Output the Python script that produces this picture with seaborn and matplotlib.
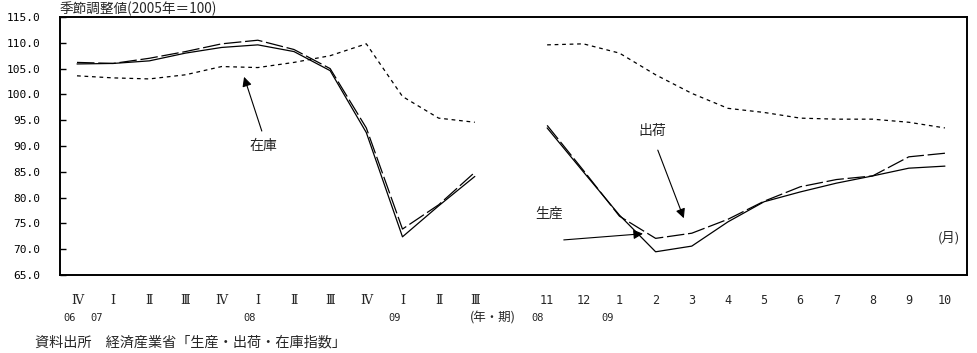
import matplotlib
matplotlib.use('Agg')
import matplotlib.pyplot as plt
import matplotlib.transforms as mtransforms
import pandas as pd
import seaborn as sns

# ---------------- data ----------------
quarter_labels = ['Ⅳ', 'Ⅰ', 'Ⅱ', 'Ⅲ', 'Ⅳ', 'Ⅰ', 'Ⅱ', 'Ⅲ', 'Ⅳ', 'Ⅰ', 'Ⅱ', 'Ⅲ']
month_labels = ['11', '12', '1', '2', '3', '4', '5', '6', '7', '8', '9', '10']

prod_q = [105.9, 106.0, 106.5, 108.0, 109.1, 109.6, 108.3, 104.6, 92.6, 72.4, 78.4, 84.1]
ship_q = [106.2, 106.0, 107.0, 108.3, 109.8, 110.5, 108.7, 105.0, 93.5, 73.9, 78.6, 84.9]
inv_q = [103.6, 103.2, 103.0, 103.8, 105.4, 105.2, 106.2, 107.5, 109.8, 99.6, 95.4, 94.6]

prod_m = [93.5, 85.0, 76.6, 69.5, 70.6, 75.3, 79.2, 81.1, 82.8, 84.2, 85.7, 86.1]
ship_m = [94.0, 85.3, 76.4, 72.1, 73.1, 75.8, 79.3, 82.1, 83.5, 84.2, 87.9, 88.6]
inv_m = [109.6, 109.8, 108.0, 103.8, 100.2, 97.3, 96.5, 95.4, 95.2, 95.2, 94.6, 93.5]

# year labels: (category index, text, shift in slots)
year_q = [(0, '06', -0.2), (1, '07', -0.47), (5, '08', -0.22), (9, '09', -0.22)]
year_m = [(0, '08', -0.25), (2, '09', -0.33)]

yticks = [115.0, 110.0, 105.0, 100.0, 95.0, 90.0, 85.0, 80.0, 75.0, 70.0, 65.0]

GAP = 1  # empty slot between the two blocks
q_pos = list(range(len(quarter_labels)))
m_pos = [len(quarter_labels) + GAP + i for i in range(len(month_labels))]

rows = []
for seg, pos, p, s, v in [('q', q_pos, prod_q, ship_q, inv_q),
                          ('m', m_pos, prod_m, ship_m, inv_m)]:
    for x, a, b, c in zip(pos, p, s, v):
        rows.append((seg, x, '生産', a))
        rows.append((seg, x, '出荷', b))
        rows.append((seg, x, '在庫', c))
df = pd.DataFrame(rows, columns=['seg', 'x', 'series', 'value'])

# ---------------- style ----------------
sns.set_style('white')
plt.rcParams['font.family'] = ['Noto Sans CJK JP', 'DejaVu Sans']

fig = plt.figure(figsize=(9.77, 3.53), dpi=100)
ax = fig.add_axes([60 / 977, 1 - 275 / 353, (967 - 60) / 977, (275 - 17) / 353])

styles = {
    '生産': dict(linestyle='-'),
    '出荷': dict(linestyle=(0, (14, 3))),
    '在庫': dict(linestyle=(0, (3, 3))),
}
for seg in ['q', 'm']:
    for name, st in styles.items():
        d = df[(df.seg == seg) & (df.series == name)]
        sns.lineplot(data=d, x='x', y='value', ax=ax, color='black',
                     linewidth=0.9, estimator=None, legend=False, **st)

ax.set_xlim(-0.47, 24.61)
ax.set_ylim(65, 115)
ax.set_xlabel('')
ax.set_ylabel('')
for sp in ax.spines.values():
    sp.set_color('black')
    sp.set_linewidth(1.4)

ax.set_yticks(yticks)
ax.set_yticklabels([f'{t:.1f}' for t in yticks], family=['DejaVu Sans Mono', 'Noto Sans CJK JP'],
                   fontsize=8)
ax.tick_params(axis='y', direction='in', length=4, width=1, pad=14, left=True, colors='black')

ax.set_xticks(q_pos + m_pos)
ax.set_xticklabels(quarter_labels + month_labels, fontsize=8.5,
                   family=['DejaVu Sans Mono', 'Noto Sans CJK JP'])
for lab in ax.get_xticklabels()[:len(quarter_labels)]:
    lab.set_family(['DejaVu Serif', 'Noto Sans CJK JP'])
    lab.set_fontsize(9)
ax.tick_params(axis='x', length=0, pad=14, bottom=True)

# second row (years) and unit label
tr = mtransforms.blended_transform_factory(ax.transData, fig.transFigure)
yrow = 1 - 318 / 353
for i, t, sh in year_q:
    ax.text(q_pos[i] + sh, yrow, t, transform=tr, ha='center', va='center',
            fontsize=7.5, family=['DejaVu Sans Mono'])
for i, t, sh in year_m:
    ax.text(m_pos[i] + sh, yrow, t, transform=tr, ha='center', va='center',
            fontsize=7.5, family=['DejaVu Sans Mono'])
ax.text(11.5, yrow, '(年・期)', transform=tr, ha='center', va='center', fontsize=9)

ax.text(24.1, 72.2, '(月)', ha='center', va='center', fontsize=9.5)

# annotations
arrow = dict(arrowstyle='-|>', color='black', lw=0.8, mutation_scale=14, shrinkA=0, shrinkB=0)
ax.annotate('', xy=(4.62, 103.4), xytext=(5.11, 92.9), arrowprops=arrow)
ax.text(5.14, 90.0, '在庫', ha='center', va='center', fontsize=10)

ax.annotate('', xy=(16.78, 76.0), xytext=(16.06, 89.2), arrowprops=arrow)
ax.text(15.9, 92.9, '出荷', ha='center', va='center', fontsize=10)

ax.annotate('', xy=(15.65, 73.0), xytext=(13.46, 71.8), arrowprops=arrow)
ax.text(13.05, 76.8, '生産', ha='center', va='center', fontsize=10)

fig.text(60 / 977, 1 - 9 / 353, '季節調整値(2005年＝100)', ha='left', va='center', fontsize=9.8)
fig.text(35 / 977, 1 - 343 / 353, '資料出所　経済産業省「生産・出荷・在庫指数」',
         ha='left', va='center', fontsize=10.2)

fig.savefig('out.png', dpi=100, facecolor='white')
